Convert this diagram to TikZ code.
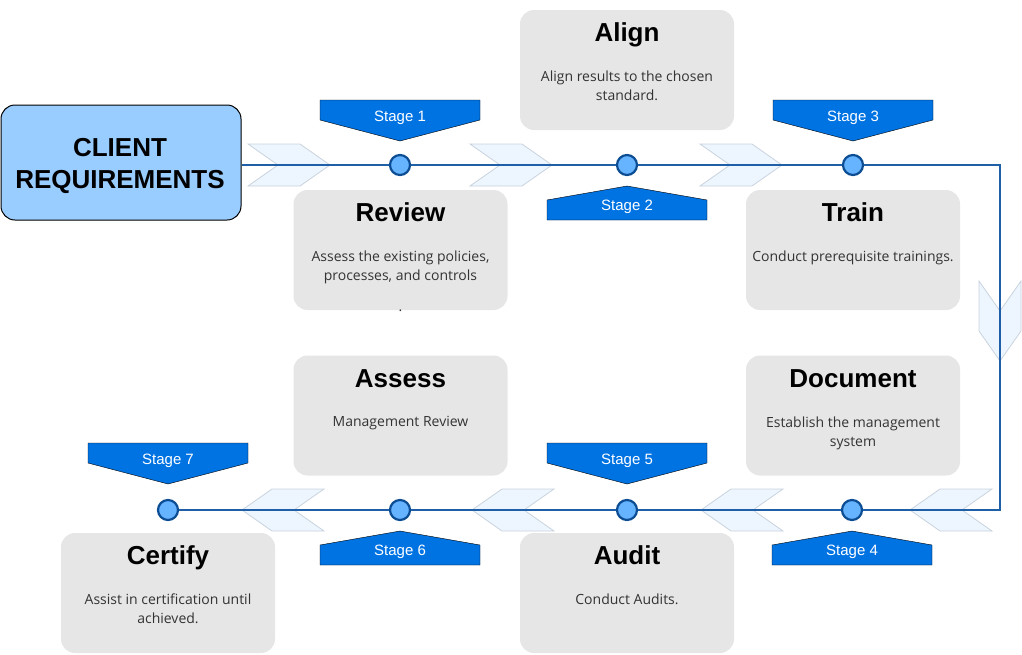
\documentclass[tikz,border=0pt]{standalone}
\usepackage{fontspec}
\setmainfont{Liberation Sans}
\newfontfamily\notefont{Open Sans}
\usepackage{tikz}
\usetikzlibrary{positioning}

\definecolor{clientblue}{HTML}{99CCFF}
\definecolor{cardgrey}{HTML}{E6E6E6}
\definecolor{notegrey}{HTML}{333333}
\definecolor{bannerblue}{HTML}{0073E3}
\definecolor{flowblue}{HTML}{1E5FA7}
\definecolor{dotfill}{HTML}{66B3FF}
\definecolor{dotline}{HTML}{0D4D94}
\definecolor{chevfill}{HTML}{EDF5FE}
\definecolor{chevline}{HTML}{C9D3DE}

\begin{document}
\begin{tikzpicture}
			[
				x=1pt, y=-1pt,
				client/.style={draw=black, fill=clientblue, line width=1pt, rounded corners=14pt,
					minimum width=240pt, minimum height=115pt},
				clienttext/.style={align=center, inner sep=0pt,
					font=\bfseries\fontsize{26}{32}\selectfont},
				card/.style={fill=cardgrey, rounded corners=14pt, minimum width=214pt,
					minimum height=120pt, inner sep=0pt},
				cardtitle/.style={font=\bfseries\fontsize{26}{30}\selectfont, inner sep=0pt, anchor=base},
				cardtext/.style={font=\notefont\fontsize{14}{19}\selectfont, text=notegrey,
					align=center, inner sep=0pt, anchor=north},
				chevron/.style={fill=chevfill, draw=chevline, line width=0.8pt},
				banner/.style={fill=bannerblue},
				bannertext/.style={text=white, font=\fontsize{15}{17}\selectfont, inner sep=0pt},
				flow/.style={draw=flowblue, line width=1.8pt},
				stagedot/.style={circle, fill=dotfill, draw=dotline, line width=2.2pt,
					minimum size=20pt, inner sep=0pt}
			]
			\useasboundingbox (0,0) rectangle (1022,654);

			% chevrons
			\foreach \x in {248,470,700}
			\draw[chevron] (\x,144) -- ++(52,0) -- ++(30,21) -- ++(-30,21) -- ++(-52,0) -- ++(30,-21) -- cycle;
			\foreach \x in {242,472,701,910}
			\draw[chevron] (\x,510) -- ++(30,-21) -- ++(52,0) -- ++(-30,21) -- ++(30,21) -- ++(-52,0) -- cycle;
			\draw[chevron] (979,281) -- (1000,311) -- (1021,281) -- (1021,331) -- (1000,361) -- (979,331) -- cycle;

			% client
			\node[client] (client) at ( 121.0, 162.5 ) {};
			\node[clienttext] (clientT) at ( 120.0, 166.0 ) {CLIENT\\REQUIREMENTS};

			% cards
			\node[card] (align) at ( 627.0,  70.0 ) {};
			\node[card] (review) at ( 400.5, 250.0 ) {};
			\node[card] (train) at ( 853.0, 250.0 ) {};
			\node[card] (assess) at ( 400.5, 415.5 ) {};
			\node[card] (document) at ( 853.0, 415.5 ) {};
			\node[card] (certify) at ( 168.0, 593.0 ) {};
			\node[card] (audit) at ( 627.0, 593.0 ) {};

			\foreach \card/\title in {align/Align,review/Review,train/Train,assess/Assess,
				document/Document,certify/Certify,audit/Audit}
			\node[cardtitle] (\card T) at ([yshift=-32pt]\card.north) {\title};

			\node[cardtext] (alignB) at ([yshift=-61pt]align.north) {Align results to the chosen\\standard.};
			\node[cardtext] (reviewB) at ([yshift=-61pt]review.north) {Assess the existing policies,\\processes, and controls\\[12pt].};
			\node[cardtext] (trainB) at ([yshift=-61pt]train.north) {Conduct prerequisite trainings.};
			\node[cardtext] (assessB) at ([yshift=-61pt]assess.north) {Management Review};
			\node[cardtext] (documentB) at ([yshift=-61pt]document.north) {Establish the management\\system};
			\node[cardtext] (certifyB) at ([yshift=-61pt]certify.north) {Assist in certification until\\achieved.};
			\node[cardtext] (auditB) at ([yshift=-61pt]audit.north) {Conduct Audits.};

			% stage banners
			\foreach \n/\x/\y in {1/400/100,3/853/100,5/627/443,7/168/443}
			\draw[banner] ({\x-80},\y) -- ({\x+80},\y) -- ({\x+80},{\y+20}) -- (\x,{\y+41})
				-- ({\x-80},{\y+20}) -- cycle node[bannertext] (s\n) at (\x,{\y+18}) {Stage \n};
			\foreach \n/\x/\y in {2/627/186,4/852/531,6/400/531}
			\draw[banner] (\x,\y) -- ({\x+80},{\y+14}) -- ({\x+80},{\y+34}) -- ({\x-80},{\y+34})
				-- ({\x-80},{\y+14}) -- cycle node[bannertext] (s\n) at (\x,{\y+21}) {Stage \n};

			% stage dots
			\node[stagedot] (d1) at ( 400.0, 165.0 ) {};
			\node[stagedot] (d2) at ( 627.0, 165.0 ) {};
			\node[stagedot] (d3) at ( 853.0, 165.0 ) {};
			\node[stagedot] (d4) at ( 852.0, 510.0 ) {};
			\node[stagedot] (d5) at ( 627.0, 510.0 ) {};
			\node[stagedot] (d6) at ( 400.0, 510.0 ) {};
			\node[stagedot] (d7) at ( 168.0, 510.0 ) {};
			\coordinate (turnA) at ( 1000.0, 165.0 );
			\coordinate (turnB) at ( 1000.0, 510.0 );

			% flow line
			\draw[flow] (client.east |- d1) -- (d1);
			\foreach \from/\to in {d1/d2,d2/d3,d4/d5,d5/d6,d6/d7}
			\draw[flow] (\from) -- (\to);
			\draw[flow] (d3) -- (turnA) -- (turnB) -- (d4);

		\end{tikzpicture}
\end{document}
